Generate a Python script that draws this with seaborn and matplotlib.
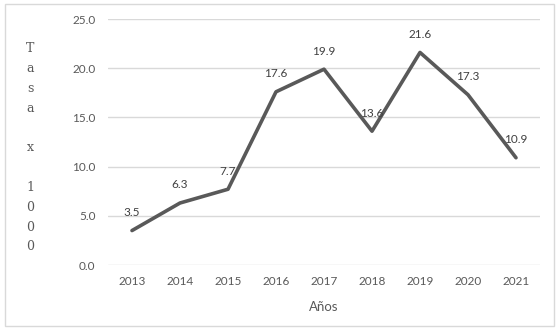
import pandas as pd
import matplotlib.pyplot as plt
from matplotlib.patches import Rectangle
import seaborn as sns

# Données
annees = ["2013", "2014", "2015", "2016", "2017", "2018", "2019", "2020", "2021"]
tasa = [3.5, 6.3, 7.7, 17.6, 19.9, 13.6, 21.6, 17.3, 10.9]
y_ticks = [0, 5, 10, 15, 20, 25]
y_label = "Tasa x 1000"
x_label = "Años"

df = pd.DataFrame({"anio": annees, "tasa": tasa})

sns.set_theme(style="white")
plt.rcParams["font.family"] = ["Lato", "DejaVu Sans"]

fig = plt.figure(figsize=(5.59, 3.34), dpi=100)
ax = fig.add_axes([108 / 559, 1 - 265 / 334, 432 / 559, 246 / 334])

sns.lineplot(data=df, x="anio", y="tasa", color="#595959", linewidth=2.6,
             sort=False, ax=ax)

# Étiquettes de données
for i, v in enumerate(tasa):
    ax.annotate(f"{v:.1f}", (i, v), xytext=(0, 13), textcoords="offset points",
                ha="center", va="center", fontsize=8.5, color="#404040")

ax.set_xlim(-0.5, len(annees) - 0.5)
ax.set_ylim(0, 25)
ax.set_yticks(y_ticks)
ax.set_yticklabels([f"{t:.1f}" for t in y_ticks])
ax.yaxis.grid(True, color="#d9d9d9", linewidth=1)
ax.xaxis.grid(False)
for s in ax.spines.values():
    s.set_visible(False)
ax.tick_params(axis="both", length=0, labelsize=8.5, labelcolor="#595959")
ax.tick_params(axis="x", pad=8)
ax.tick_params(axis="y", pad=9)
ax.set_xlabel(x_label, fontsize=9.5, color="#595959", labelpad=10)
ax.set_ylabel("")

# Étiquette verticale lettre par lettre
fig.text(30 / 559, 1 - 148 / 334, "\n".join(y_label),
         ha="center", va="center", fontsize=9, color="#595959",
         linespacing=1.68, family=["DejaVu Serif"])

# Cadre du graphique
fig.patches.append(Rectangle((5 / 559, 1 - 326 / 334), 549 / 559, 322 / 334,
                             transform=fig.transFigure, fill=False,
                             edgecolor="#d9d9d9", linewidth=1))

fig.savefig("out.png", dpi=100)
